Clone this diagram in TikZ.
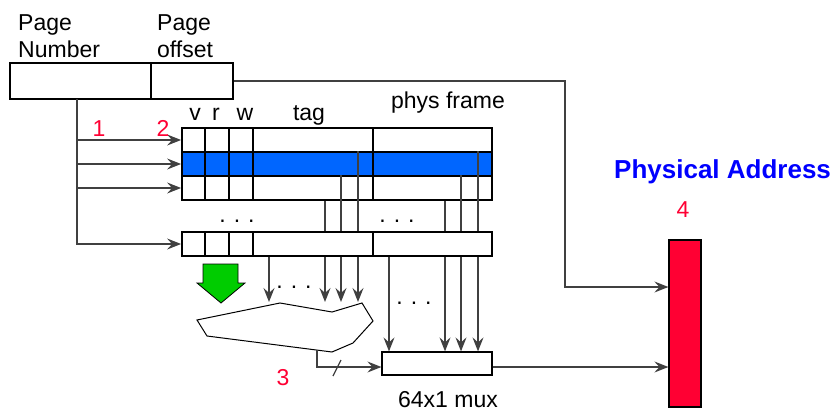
\documentclass[tikz,border=0pt]{standalone}
\usepackage{fontspec}
\setmainfont{Liberation Sans}
\usepackage{tikz}
\usetikzlibrary{positioning,arrows.meta}
\definecolor{entryblue}{HTML}{0066FF}
\definecolor{numred}{HTML}{FF0033}
\definecolor{addrblue}{HTML}{0000FF}
\definecolor{hitgreen}{HTML}{00CC00}
\definecolor{wiregray}{HTML}{404040}

\begin{document}
\begin{tikzpicture}[
    x=1pt, y=-1pt,
    every node/.style={font=\fontsize{23}{27}\selectfont, inner sep=0pt},
    field/.style={draw, line width=1.2pt, minimum height=36pt},
    entry/.style={draw, line width=1.8pt, fill=#1,
                  minimum width=310pt, minimum height=24pt},
    entry/.default=white,
    wire/.style={draw=wiregray, line width=1.3pt},
    feed/.style={wire, -{Stealth[length=14pt, width=11pt, inset=5pt]}},
    num/.style={text=numred}
]
    \useasboundingbox (0,0) rectangle (838,412);

    % Virtual address
    \node[field, minimum width=141pt] (pn) at (80.5,81) {};
    \node[field, minimum width=82pt] (po) at (192,81) {};
    \node[anchor=north west, align=left] (pnlbl) at (18,14) {Page\\Number};
    \node[anchor=north west, align=left] (polbl) at (157,14) {Page\\offset};

    % TLB entries
    \node[entry] (entry1) at (337,140) {};
    \node[entry=entryblue] (entry2) at (337,164) {};
    \node[entry] (entry3) at (337,188) {};
    \foreach \r in {entry1,entry2,entry3}
        \foreach \c in {205,229,253,373}
            \draw[line width=1.8pt] (\r.north -| \c,0) -- (\r.south -| \c,0);

    % Column heads
    \node[anchor=base] (vlbl) at (195,121) {v};
    \node[anchor=base] (rlbl) at (216,121) {r};
    \node[anchor=base] (wlbl) at (245,121) {w};
    \node[anchor=base] (taglbl) at (309,121) {tag};
    \node[anchor=base] (framelbl) at (448,108) {phys frame};

    % Comparator and mux
    \coordinate (cmptop) at (0,302);
    \coordinate (cmpout) at (317,350);
    \draw[line width=1pt, fill=white] (197,320) -- (280,303) -- (332,312)
        -- (362,303) -- (373,321) -- (353,343) -- (332,352) -- (207,336) -- cycle;
    \node[draw, line width=1.2pt, minimum width=110pt, minimum height=23pt]
        (mux) at (437,363.5) {};
    \node[anchor=base] (muxlbl) at (448,407) {64x1 mux};

    % Tag and frame outputs
    \foreach \x/\s in {358/entry2.north, 341/entry3.north, 325/entry3.south}
        \draw[feed] (\s -| \x,0) -- (cmptop -| \x,0);
    \foreach \x/\s in {478/entry2.north, 461/entry3.north, 445/entry3.south}
        \draw[feed] (\s -| \x,0) -- (mux.north -| \x,0);

    % Last entry
    \node[entry] (entryN) at (337,244) {};
    \foreach \c in {205,229,253,373}
        \draw[line width=1.8pt] (entryN.north -| \c,0) -- (entryN.south -| \c,0);
    \draw[feed] (entryN.south -| 269,0) -- (cmptop -| 269,0);
    \draw[feed] (entryN.south -| 389,0) -- (mux.north -| 389,0);

    % Page number into every entry
    \coordinate (trunk) at (77,99);
    \foreach \r in {entry1,entry2,entry3,entryN}
        \draw[feed] (trunk) |- (\r.west);

    % Dots
    \node (rowdots) at (237,221) {.\hspace{8pt}.\hspace{8pt}.};
    \node (framedots) at (397,221) {.\hspace{8pt}.\hspace{8pt}.};
    \node (cmpdots) at (294,287) {.\hspace{8pt}.\hspace{8pt}.};
    \node (muxdots) at (414,303) {.\hspace{8pt}.\hspace{8pt}.};

    % Hit arrow
    \draw[fill=hitgreen, line width=0.8pt] (203,264) -- (238,264) -- (238,283)
        -- (245,283) -- (221,303) -- (197,283) -- (203,283) -- cycle;

    % Comparator to mux
    \draw[feed] (cmpout) |- (mux.west |- 0,367);
    \draw[wire] (333,376) -- (341,360);

    % Physical address
    \node[draw, line width=1.2pt, fill=numred, minimum width=32pt,
          minimum height=167pt] (pa) at (685,323.5) {};
    \node[anchor=base west, text=addrblue, font=\fontsize{26}{30}\selectfont\bfseries]
        (palbl) at (614,178) {Physical Address};
    \draw[feed] (po.east) -- (po.east -| 565,0) |- (pa.west |- 0,287);
    \draw[feed] (mux.east |- 0,367) -- (pa.west |- 0,367);

    % Step numbers
    \node[num, anchor=base] (n1) at (99,136) {1};
    \node[num, anchor=base] (n2) at (163,136) {2};
    \node[num, anchor=base] (n3) at (283,385) {3};
    \node[num, anchor=base] (n4) at (683,217) {4};
\end{tikzpicture}
\end{document}
